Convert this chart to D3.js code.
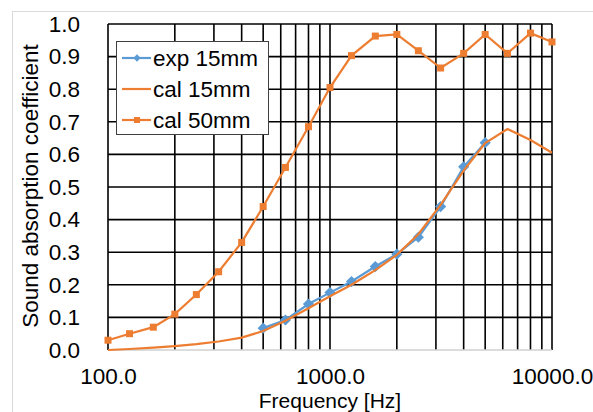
<!DOCTYPE html>
<html>
<head>
<meta charset="utf-8">
<script src="https://cdn.jsdelivr.net/npm/d3@7"></script>
<style>
  html, body { margin: 0; padding: 0; background: #fff; }
  svg { display: block; font-family: "Liberation Sans", Arial, sans-serif; }
</style>
</head>
<body>
<svg id="chart" width="593" height="412"></svg>
<script>
// ---- data ----
const freqs = [100, 125, 160, 200, 250, 315, 400, 500, 630, 800, 1000, 1250, 1600, 2000, 2500, 3150, 4000, 5000, 6300, 8000, 10000];
const cal50 = [0.03, 0.05, 0.07, 0.11, 0.17, 0.24, 0.33, 0.44, 0.56, 0.685, 0.805, 0.903, 0.963, 0.968, 0.918, 0.865, 0.91, 0.968, 0.91, 0.972, 0.945];
const cal15 = [0.0, 0.003, 0.007, 0.012, 0.018, 0.026, 0.038, 0.058, 0.09, 0.128, 0.165, 0.2, 0.245, 0.292, 0.355, 0.445, 0.55, 0.635, 0.678, 0.644, 0.605];
const expFreqs = [500, 630, 800, 1000, 1250, 1600, 2000, 2500, 3150, 4000, 5000];
const exp15 = [0.067, 0.092, 0.141, 0.176, 0.21, 0.256, 0.294, 0.346, 0.44, 0.562, 0.636];
const xTickValues = [100, 1000, 10000];
const xTickLabels = ["100.0", "1000.0", "10000.0"];
const yTickValues = [0, 0.1, 0.2, 0.3, 0.4, 0.5, 0.6, 0.7, 0.8, 0.9, 1.0];
const seriesNames = ["exp 15mm", "cal 15mm", "cal 50mm"];

const blue = "#5B9BD5", orange = "#ED7D31";
const FS = 22.5;

const svg = d3.select("#chart");
const L = 108, R = 552, T = 24, B = 350;

const x = d3.scaleLog().domain([100, 10000]).range([L, R]);
const y = d3.scaleLinear().domain([0, 1]).range([B, T]);

// outer chart border
svg.append("rect").attr("x", 12.5).attr("y", 11.5).attr("width", 600).attr("height", 420)
  .attr("fill", "none").attr("stroke", "#d9d9d9").attr("stroke-width", 1);

// vertical gridlines (major + minor log)
const vgrid = [];
for (let d = 100; d < 10000; d *= 10) for (let k = 1; k <= 9; k++) vgrid.push(d * k);
vgrid.push(10000);
svg.append("g").selectAll("line").data(vgrid).join("line")
  .attr("x1", d => x(d)).attr("x2", d => x(d)).attr("y1", T).attr("y2", B)
  .attr("stroke", "#000").attr("stroke-width", 1.6);

// horizontal gridlines
svg.append("g").selectAll("line").data(yTickValues.filter(v => v > 0)).join("line")
  .attr("x1", L).attr("x2", R).attr("y1", d => y(d)).attr("y2", d => y(d))
  .attr("stroke", "#000").attr("stroke-width", 1.6);

// bottom axis line
svg.append("line").attr("x1", L).attr("x2", R).attr("y1", B).attr("y2", B)
  .attr("stroke", "#d0d0d0").attr("stroke-width", 1.6);

// y axis labels
const yAxis = d3.axisLeft(y).tickValues(yTickValues).tickFormat(d3.format(".1f")).tickSize(0).tickPadding(28);
const yg = svg.append("g").attr("transform", `translate(${L},0)`).call(yAxis);
yg.select(".domain").remove();
yg.selectAll("text").attr("font-size", FS).attr("fill", "#000").attr("font-family", "Liberation Sans, Arial, sans-serif");

// x axis labels
const xAxis = d3.axisBottom(x).tickValues(xTickValues).tickFormat((d, i) => xTickLabels[i]).tickSize(0).tickPadding(20);
const xg = svg.append("g").attr("transform", `translate(0,${B})`).call(xAxis);
xg.select(".domain").remove();
xg.selectAll("text").attr("font-size", FS).attr("fill", "#000").attr("font-family", "Liberation Sans, Arial, sans-serif");
xg.selectAll("text").attr("dy", "0.6em");

// axis titles
svg.append("text").attr("x", 330).attr("y", 407.5).attr("text-anchor", "middle")
  .attr("font-size", 21).attr("fill", "#000").text("Frequency [Hz]");
svg.append("text").attr("transform", `translate(38,186) rotate(-90)`).attr("text-anchor", "middle")
  .attr("font-size", FS).attr("fill", "#000").text("Sound absorption coefficient");

const line = d3.line().x(d => x(d[0])).y(d => y(d[1]));

// exp 15mm
const expData = expFreqs.map((f, i) => [f, exp15[i]]);
svg.append("path").datum(expData).attr("d", line).attr("fill", "none")
  .attr("stroke", blue).attr("stroke-width", 2.2);
svg.append("g").selectAll("path").data(expData).join("path")
  .attr("d", d3.symbol(d3.symbolDiamond2, 80)())
  .attr("transform", d => `translate(${x(d[0])},${y(d[1])})`).attr("fill", blue);

// cal 15mm
const c15 = freqs.map((f, i) => [f, cal15[i]]);
svg.append("path").datum(c15).attr("d", line).attr("fill", "none")
  .attr("stroke", orange).attr("stroke-width", 2.2);

// cal 50mm
const c50 = freqs.map((f, i) => [f, cal50[i]]);
svg.append("path").datum(c50).attr("d", line).attr("fill", "none")
  .attr("stroke", orange).attr("stroke-width", 2.2);
svg.append("g").selectAll("rect").data(c50).join("rect")
  .attr("x", d => x(d[0]) - 3.5).attr("y", d => y(d[1]) - 3.5)
  .attr("width", 7).attr("height", 7).attr("fill", orange);

// legend
const lg = svg.append("g");
lg.append("rect").attr("x", 116.5).attr("y", 41.5).attr("width", 152).attr("height", 93)
  .attr("fill", "#fff").attr("stroke", "#404040").attr("stroke-width", 1);
const rows = [58, 89, 120];
seriesNames.forEach((name, i) => {
  const yy = rows[i];
  lg.append("line").attr("x1", 122).attr("x2", 151).attr("y1", yy).attr("y2", yy)
    .attr("stroke", i === 0 ? blue : orange).attr("stroke-width", 2.2);
  if (i === 0) {
    lg.append("path").attr("d", d3.symbol(d3.symbolDiamond2, 34)())
      .attr("transform", `translate(137,${yy})`).attr("fill", blue);
  } else if (i === 2) {
    lg.append("rect").attr("x", 134).attr("y", yy - 3).attr("width", 6).attr("height", 6).attr("fill", orange);
  }
  lg.append("text").attr("x", 153).attr("y", yy + 8).attr("font-size", FS).attr("fill", "#000").text(name);
});
</script>
</body>
</html>
